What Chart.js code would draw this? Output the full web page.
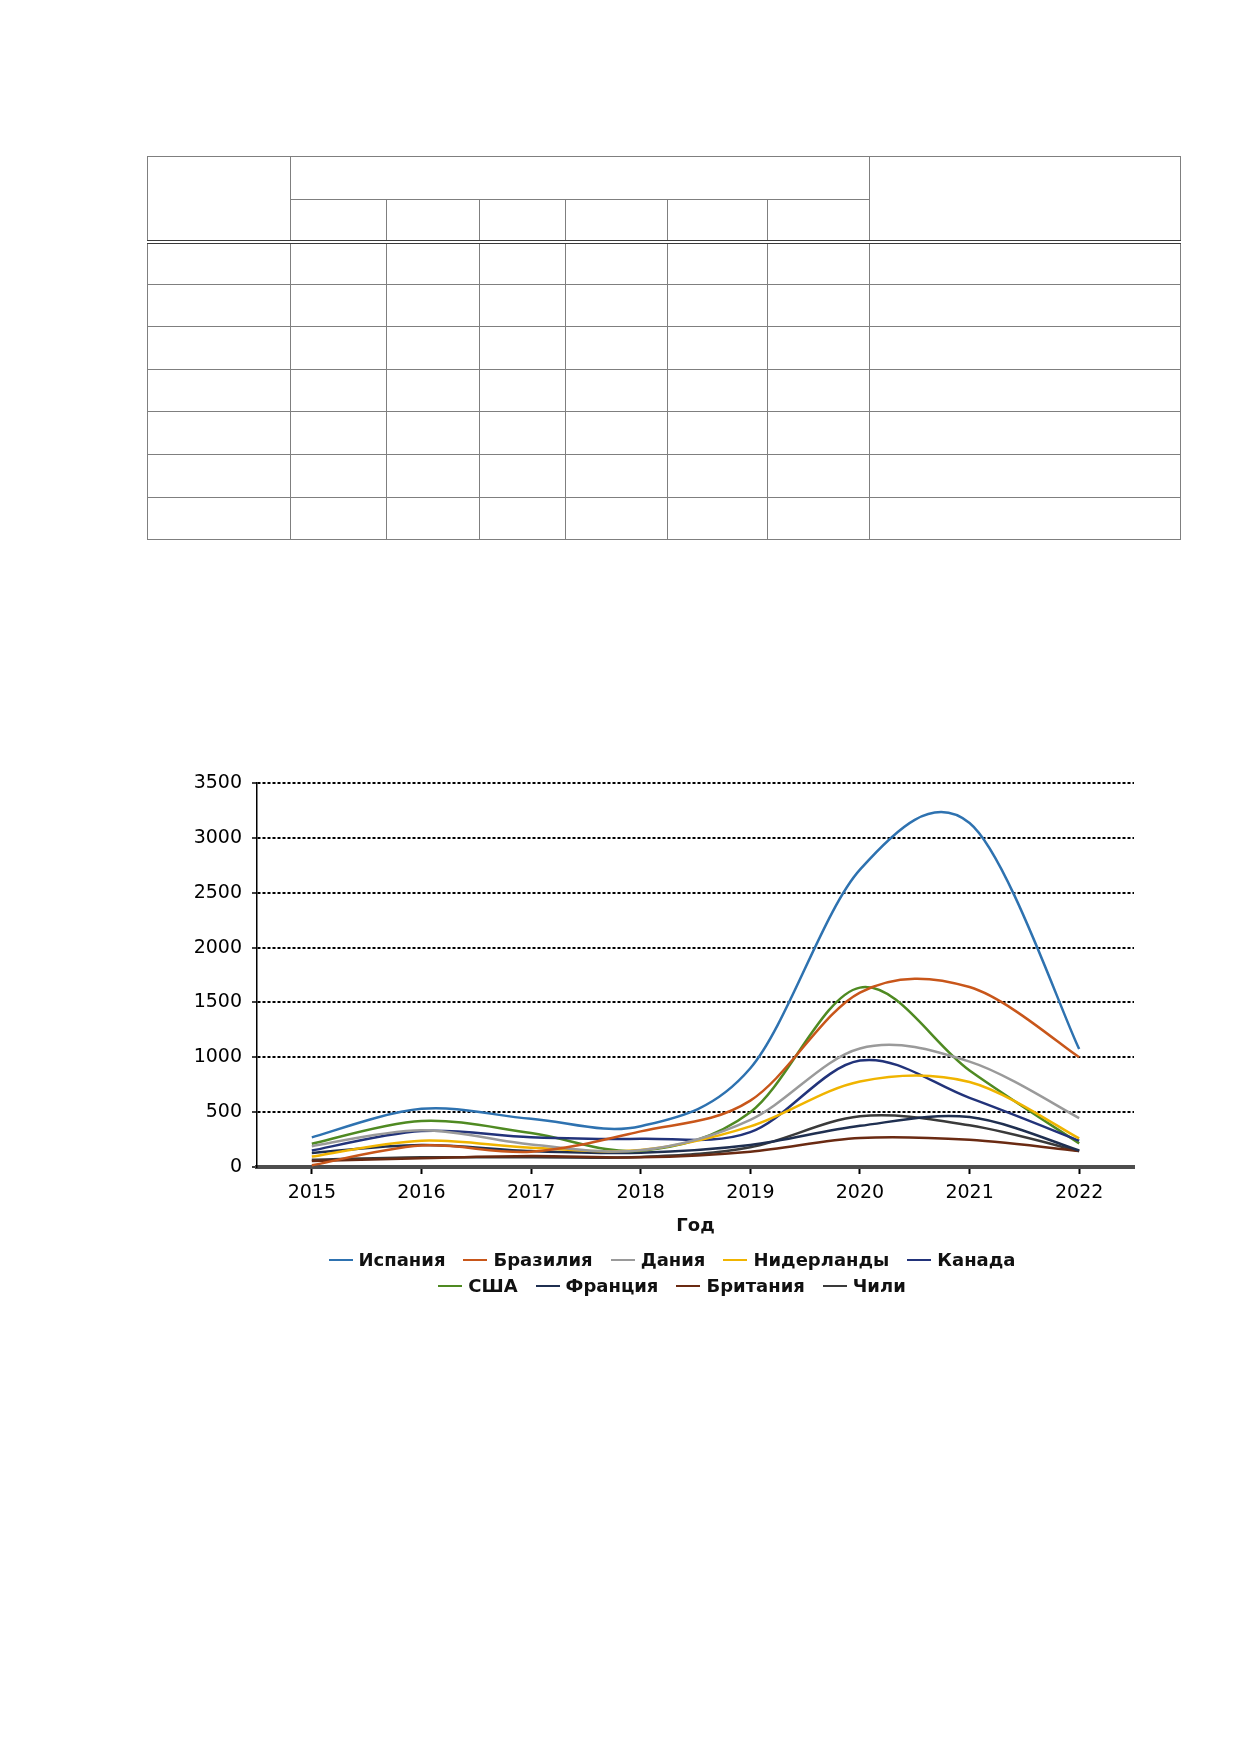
<!DOCTYPE html>
<html lang="ru">
<head>
<meta charset="utf-8">
<title>График по странам</title>
<script src="https://cdn.jsdelivr.net/npm/chart.js@4.4.1/dist/chart.umd.min.js"></script>
<style>
  html, body { margin: 0; padding: 0; background: #fff; }
  body { width: 1240px; height: 1754px; position: relative; overflow: hidden;
         font-family: "DejaVu Sans", Verdana, sans-serif; }
  .grid-table { position: absolute; left: 147px; top: 156px; border-collapse: collapse;
                table-layout: fixed; width: 1033px; }
  .grid-table td { border: 1.5px solid #7f7f7f; padding: 0; }
  .grid-table tr.h1 { height: 43px; }
  .grid-table tr.h2 { height: 42px; }
  .grid-table tr.h2 td, .grid-table td.tall { border-bottom: 4px double #3a3a3a; }
  .grid-table tr.r { height: 42.6px; }
  #chartBox { position: absolute; left: 150px; top: 760px; width: 1000px; height: 490px; }
  #legend { position: absolute; left: 272px; top: 1247px; width: 800px;
            font: bold 18px "DejaVu Sans", Verdana, sans-serif; color: #111; }
  #legend .row { text-align: center; height: 26px; line-height: 26px; white-space: nowrap; }
  #legend .item { display: inline-block; margin: 0 9px; }
  #legend .sw { display: inline-block; width: 24px; height: 2px; vertical-align: middle;
                margin-right: 6px; position: relative; top: -1px; }
</style>
</head>
<body>

<table class="grid-table" id="gridTable">
  <colgroup>
    <col style="width:143px"><col style="width:96px"><col style="width:93px"><col style="width:86px">
    <col style="width:102px"><col style="width:100px"><col style="width:102px"><col style="width:311px">
  </colgroup>
</table>

<div id="chartBox"><canvas id="chart" width="1000" height="490"></canvas></div>
<div id="legend"></div>

<script>
// === Data ===
const years = ['2015', '2016', '2017', '2018', '2019', '2020', '2021', '2022'];

const spain       = [270, 530, 440, 372, 900, 2710, 3135, 1075];
const brazil      = [15, 195, 140, 325, 605, 1590, 1640, 1000];
const denmark     = [190, 335, 205, 152, 430, 1080, 960, 445];
const netherlands = [95, 240, 175, 155, 370, 780, 775, 260];
const canada      = [150, 328, 272, 258, 318, 970, 630, 240];
const usa         = [212, 420, 310, 148, 500, 1635, 880, 215];
const france      = [128, 200, 145, 130, 200, 375, 455, 150];
const britain     = [55, 80, 100, 88, 140, 265, 248, 145];
const chile       = [65, 88, 88, 92, 180, 462, 380, 145];

const seriesNames  = ['Испания', 'Бразилия', 'Дания', 'Нидерланды', 'Канада', 'США', 'Франция', 'Британия', 'Чили'];
const seriesValues = [spain, brazil, denmark, netherlands, canada, usa, france, britain, chile];
const seriesColors = ['#2e72b0', '#c8561a', '#9a9a9a', '#f0b400', '#22337a', '#4f8a22', '#1f2f50', '#6a2a12', '#3a3a3a'];

const yTicks = [0, 500, 1000, 1500, 2000, 2500, 3000, 3500];
const axisTitle = 'Год';

// === Empty table above the chart ===
(function buildTable() {
  const table = document.getElementById('gridTable');
  let html = '<tr class="h1"><td rowspan="2" class="tall"></td><td colspan="6"></td><td rowspan="2" class="tall"></td></tr>';
  html += '<tr class="h2">' + '<td></td>'.repeat(6) + '</tr>';
  for (let r = 0; r < 7; r++) html += '<tr class="r">' + '<td></td>'.repeat(8) + '</tr>';
  table.insertAdjacentHTML('beforeend', html);
})();

// === Spreadsheet-style smoothing (uniform Catmull-Rom control points) ===
const smoothLines = {
  id: 'smoothLines',
  beforeDatasetDraw(chart, args) {
    const meta = args.meta;
    const pts = meta.data;
    if (!meta.dataset || pts.length < 2) return;
    meta.dataset.updateControlPoints(chart.chartArea, 'x');
    for (let i = 0; i < pts.length; i++) {
      const p = pts[i];
      const prev = pts[Math.max(i - 1, 0)];
      const next = pts[Math.min(i + 1, pts.length - 1)];
      const dx = (next.x - prev.x) / 6;
      const dy = (next.y - prev.y) / 6;
      p.cp1x = p.x - dx; p.cp1y = p.y - dy;
      p.cp2x = p.x + dx; p.cp2y = p.y + dy;
    }
  }
};

// === Chart ===
const tickFont = { family: 'DejaVu Sans', size: 19 };

new Chart(document.getElementById('chart'), {
  type: 'line',
  data: {
    labels: years,
    datasets: seriesNames.map((name, i) => ({
      label: name,
      data: seriesValues[i],
      borderColor: seriesColors[i],
      backgroundColor: seriesColors[i],
      borderWidth: 2.5,
      pointRadius: 0,
      tension: 0.35,
      fill: false
    }))
  },
  options: {
    responsive: false,
    animation: false,
    layout: { padding: { left: 0, top: 23, right: 16, bottom: 0 } },
    plugins: {
      legend: { display: false },
      tooltip: { enabled: false }
    },
    scales: {
      x: {
        offset: true,
        grid: { drawOnChartArea: false, drawTicks: true, tickLength: 7, tickColor: '#000', tickWidth: 2 },
        border: { color: '#4d4d4d', width: 4 },
        ticks: { padding: 8, color: '#000', font: tickFont, maxRotation: 0 },
        title: {
          display: true,
          text: axisTitle,
          color: '#111',
          font: { family: 'DejaVu Sans', size: 18, weight: 'bold' },
          padding: { top: 0, bottom: 13 }
        },
        afterFit: scale => { scale.height = 83; }
      },
      y: {
        min: 0,
        max: 3500,
        afterBuildTicks: scale => { scale.ticks = yTicks.map(v => ({ value: v })); },
        ticks: { padding: 10, color: '#000', font: tickFont, callback: v => String(v) },
        grid: { color: '#000', lineWidth: 2, tickLength: 5, tickColor: '#000', tickWidth: 1.5 },
        border: { color: '#000', width: 1.5, dash: [3, 2] },
        afterFit: scale => { scale.width = 107; }
      }
    }
  },
  plugins: [smoothLines]
});

// === Legend (two centered rows, like the original) ===
(function buildLegend() {
  const legend = document.getElementById('legend');
  const rows = [[0, 5], [5, 9]];
  rows.forEach(([a, b]) => {
    const row = document.createElement('div');
    row.className = 'row';
    for (let i = a; i < b; i++) {
      const item = document.createElement('span');
      item.className = 'item';
      item.innerHTML = '<span class="sw" style="background:' + seriesColors[i] + '"></span>' + seriesNames[i];
      row.appendChild(item);
    }
    legend.appendChild(row);
  });
})();
</script>
</body>
</html>
